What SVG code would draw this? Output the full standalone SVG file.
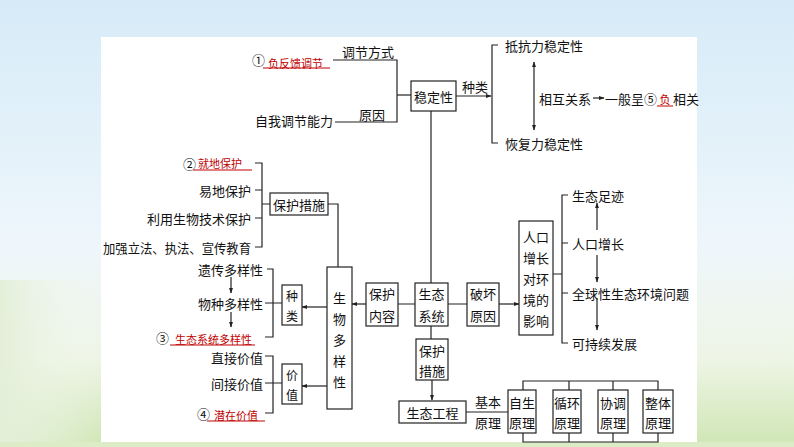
<svg xmlns="http://www.w3.org/2000/svg" width="794" height="447" viewBox="0 0 794 447">
<defs>
<linearGradient id="bg" x1="0" y1="0" x2="0" y2="1">
<stop offset="0" stop-color="#d6ebf8"/>
<stop offset="0.55" stop-color="#eef6fb"/>
<stop offset="0.8" stop-color="#eef5e6"/>
<stop offset="1" stop-color="#cfe6b4"/>
</linearGradient>
<linearGradient id="side" x1="0" y1="0" x2="1" y2="0">
<stop offset="0" stop-color="#e3efd8"/>
<stop offset="1" stop-color="#f4f9f1" stop-opacity="0"/>
</linearGradient>
<marker id="ah" viewBox="0 0 10 10" refX="9" refY="5" markerWidth="6" markerHeight="6" orient="auto-start-reverse" markerUnits="userSpaceOnUse">
<path d="M0,1.5 L10,5 L0,8.5 Z" fill="#222"/>
</marker>
<style>
.t{font-family:"Noto Sans CJK SC","Noto Sans",sans-serif;font-size:13px;fill:#111;dominant-baseline:central}
.m{text-anchor:middle}
.e{text-anchor:end}
.s{font-size:12px}
.r{fill:#c00000;font-size:11px}
.b{fill:#fff;stroke:#222;stroke-width:1.2}
.ln{stroke:#222;stroke-width:1.2;fill:none}
.ar{marker-end:url(#ah)}
.ul{stroke:#c00000;stroke-width:1;fill:none}
</style>
</defs>
<rect x="0" y="0" width="794" height="447" fill="url(#bg)"/>
<rect x="0" y="280" width="101" height="167" fill="url(#side)"/>
<rect x="101" y="37" width="596" height="407" fill="#fff"/>
<rect x="0" y="442" width="794" height="5" fill="#dcecc6"/>

<g id="connectors">
<path class="ln" d="M333,60 H397 V122 H335"/>
<path class="ln" d="M397,95 H411"/>
<path class="ln ar" d="M456,96 H491"/>
<path class="ln" d="M498,45 H492 V143 H498"/>
<path class="ln ar" d="M534,62 V130" style="marker-start:url(#ah)"/>
<path class="ln ar" d="M593,98 H604"/>
<path class="ln" d="M431,111 V283"/>
<path class="ln" d="M255,163 H262 V247 H255 M255,190 H262 M255,218 H262 M262,204 H270"/>
<path class="ln" d="M328,204 H338 V267"/>
<path class="ln ar" d="M327,307 H302"/>
<path class="ln" d="M267,269 H273 V337 H265 M265,303 H282"/>
<path class="ln ar" d="M231,277 V293"/>
<path class="ln ar" d="M231,312 V327"/>
<path class="ln ar" d="M327,386 H302"/>
<path class="ln" d="M265,356 H273 V413 H265 M265,383 H282"/>
<path class="ln ar" d="M366,304 H352"/>
<path class="ln" d="M398,304 H415 M448,304 H467"/>
<path class="ln ar" d="M499,304 H519"/>
<path class="ln" d="M431,326 V339"/>
<path class="ln ar" d="M432,380 V400"/>
<path class="ln" d="M466,412 H508"/>
<path class="ln" d="M523,390 V381 H658 V390 M569,381 V390 M613,381 V390"/>
<path class="ln" d="M523,433 V442 H658 V433 M569,442 V433 M613,442 V433"/>
<path class="ln" d="M553,274 H562 M568,195 H562 V343 H568 M562,243 H568 M562,293 H568"/>
<path class="ln ar" d="M597,230 V203"/>
<path class="ln ar" d="M597,255 V282"/>
<path class="ln ar" d="M597,298 V330"/>
</g>

<g id="labels">
<text class="t" x="342" y="51">调节方式</text>
<text class="t" x="252" y="59">①</text>
<text class="t r" x="268" y="63">负反馈调节</text>
<path class="ul" d="M263,68 H330"/>
<text class="t" x="255" y="120">自我调节能力</text>
<text class="t" x="359" y="114">原因</text>
<text class="t" x="462" y="86">种类</text>
<text class="t" x="505" y="45">抵抗力稳定性</text>
<text class="t" x="505" y="143">恢复力稳定性</text>
<text class="t" x="539" y="98">相互关系</text>
<text class="t" x="605" y="98">一般呈⑤</text>
<text class="t r m" x="665" y="99">负</text>
<path class="ul" d="M657,106 H673"/>
<text class="t" x="673" y="98">相关</text>
<text class="t" x="183" y="163">②</text>
<text class="t r" x="198" y="163">就地保护</text>
<path class="ul" d="M193,170 H252"/>
<text class="t e" x="251" y="190">易地保护</text>
<text class="t e" x="251" y="218">利用生物技术保护</text>
<text class="t e" x="251" y="247" textLength="148" lengthAdjust="spacingAndGlyphs">加强立法、执法、宣传教育</text>
<text class="t e" x="263" y="269">遗传多样性</text>
<text class="t e" x="263" y="303">物种多样性</text>
<text class="t" x="156" y="337">③</text>
<text class="t r" x="175" y="339">生态系统多样性</text>
<path class="ul" d="M170,345 H255"/>
<text class="t e" x="263" y="357">直接价值</text>
<text class="t e" x="263" y="383">间接价值</text>
<text class="t" x="197" y="413">④</text>
<text class="t r" x="214" y="415">潜在价值</text>
<path class="ul" d="M207,421 H265"/>
<text class="t" x="475" y="401">基本</text>
<text class="t" x="475" y="422">原理</text>
<text class="t" x="572" y="195">生态足迹</text>
<text class="t" x="572" y="243">人口增长</text>
<text class="t" x="572" y="293">全球性生态环境问题</text>
<text class="t" x="572" y="343">可持续发展</text>
</g>

<g id="n-wending"><rect class="b" x="411" y="81" width="45" height="30"/><text class="t m" x="433.5" y="96">稳定性</text></g>
<g id="n-baohucuoshi1"><rect class="b" x="270" y="193" width="58" height="22"/><text class="t m" x="299" y="204">保护措施</text></g>
<g id="n-shengwu"><rect class="b" x="327" y="267" width="25" height="142"/>
<text class="t m" x="339.5" y="297">生</text><text class="t m" x="339.5" y="318">物</text><text class="t m" x="339.5" y="339">多</text><text class="t m" x="339.5" y="360">样</text><text class="t m" x="339.5" y="381">性</text></g>
<g id="n-zhonglei"><rect class="b" x="282" y="285" width="20" height="40"/><text class="t m s" x="292" y="295.5">种</text><text class="t m s" x="292" y="315">类</text></g>
<g id="n-jiazhi"><rect class="b" x="282" y="364" width="20" height="40"/><text class="t m s" x="292" y="374.5">价</text><text class="t m s" x="292" y="394">值</text></g>
<g id="n-baohuneirong"><rect class="b" x="366" y="283" width="32" height="43"/><text class="t m" x="382" y="293">保护</text><text class="t m" x="382" y="315">内容</text></g>
<g id="n-shengtai"><rect class="b" x="415" y="283" width="33" height="43"/><text class="t m" x="431.5" y="293">生态</text><text class="t m" x="431.5" y="315">系统</text></g>
<g id="n-pohuai"><rect class="b" x="467" y="283" width="32" height="43"/><text class="t m" x="483" y="293">破坏</text><text class="t m" x="483" y="315">原因</text></g>
<g id="n-baohucuoshi2"><rect class="b" x="416" y="339" width="32" height="41"/><text class="t m" x="432" y="350">保护</text><text class="t m" x="432" y="370">措施</text></g>
<g id="n-gongcheng"><rect class="b" x="399" y="401" width="67" height="22"/><text class="t m" x="432.5" y="412">生态工程</text></g>
<g id="n-zisheng"><rect class="b" x="508" y="390" width="28" height="43"/><text class="t m" x="522" y="402">自生</text><text class="t m" x="522" y="422">原理</text></g>
<g id="n-xunhuan"><rect class="b" x="553" y="390" width="28" height="43"/><text class="t m" x="567" y="402">循环</text><text class="t m" x="567" y="422">原理</text></g>
<g id="n-xietiao"><rect class="b" x="598" y="390" width="30" height="43"/><text class="t m" x="613" y="402">协调</text><text class="t m" x="613" y="422">原理</text></g>
<g id="n-zhengti"><rect class="b" x="643" y="390" width="30" height="43"/><text class="t m" x="658" y="402">整体</text><text class="t m" x="658" y="422">原理</text></g>
<g id="n-renkou"><rect class="b" x="519" y="221" width="34" height="114"/>
<text class="t m" x="536" y="236">人口</text><text class="t m" x="536" y="257">增长</text><text class="t m" x="536" y="278">对环</text><text class="t m" x="536" y="299">境的</text><text class="t m" x="536" y="320">影响</text></g>
</svg>
